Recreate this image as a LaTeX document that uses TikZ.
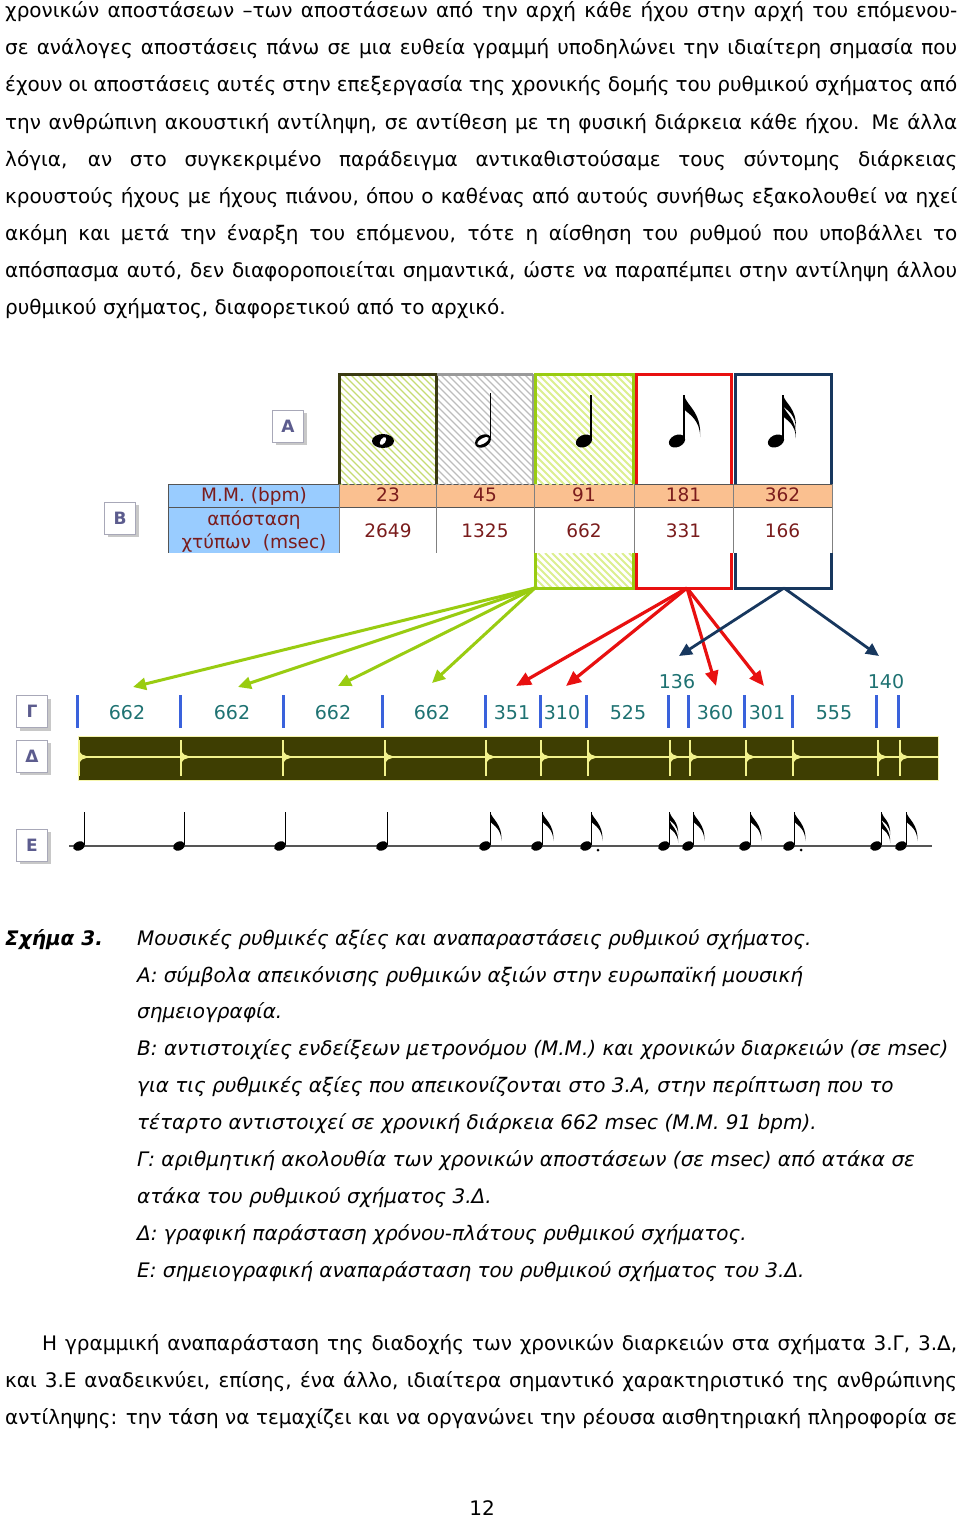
\documentclass[tikz,border=0pt]{standalone}
\usepackage{fontspec}
\setmainfont{DejaVu Sans}
\usetikzlibrary{arrows.meta}
\definecolor{olivedk}{HTML}{3A3A12}
\definecolor{hatchA}{HTML}{C6DC72}
\definecolor{grayfr}{HTML}{9A9A9A}
\definecolor{hatchB}{HTML}{BDBDBD}
\definecolor{greenfr}{HTML}{99CC11}
\definecolor{hatchC}{HTML}{DCEF90}
\definecolor{redfr}{HTML}{E81010}
\definecolor{navyfr}{HTML}{17375E}
\definecolor{hdrblue}{HTML}{99CCFF}
\definecolor{roworange}{HTML}{FAC090}
\definecolor{tabtext}{HTML}{7A1C1C}
\definecolor{gnumc}{HTML}{1E7272}
\definecolor{tickblue}{HTML}{3A62DC}
\definecolor{wavebg}{HTML}{3E3E02}
\definecolor{wavefg}{HTML}{F2F28C}
\definecolor{lbltext}{HTML}{5C5C8E}
\definecolor{lblborder}{HTML}{A8A8B8}
\definecolor{lblshadow}{HTML}{C8C8C8}
\definecolor{tabline}{HTML}{555555}
\newcommand{\bodyfont}{\fontsize{20}{24}\selectfont}
\newcommand{\jline}[4]{\node[txt] (#1) at (#2) {\makebox[#3][s]{#4}};}
\newcommand{\hatchrect}[6]{%
  \begin{scope}
    \clip (#1,#2) rectangle (#3,#4);
    \foreach \k in {-150,-143,...,110} \draw[#5, line width=#6] (#1+\k,#2) -- ++(150,150);
  \end{scope}}
\newcommand{\qhead}[4]{\fill[rotate around={25:(#1,#2)}] (#1,#2) ellipse [x radius=#3, y radius=#4];}
\newcommand{\flagat}[3]{\fill[shift={(#1,#2)}, scale=#3] (0,0) .. controls (1,7) and (12,11) .. (11,29) .. controls (11,17) and (3,13) .. (0,10) -- cycle;}
\newcommand{\Eq}[1]{\qhead{#1}{846}{6.2}{4.4}\draw[line width=1.2pt] (#1+5.4,845) -- (#1+5.4,812);}
\newcommand{\Ee}[1]{\Eq{#1}\flagat{#1+5.4}{812}{1}}
\newcommand{\Eed}[1]{\Ee{#1}\fill (#1+12,850) circle (1.5);}
\newcommand{\Es}[1]{\Eq{#1}\flagat{#1+5.4}{812}{0.8}\flagat{#1+5.4}{820}{0.8}}
\newcommand{\lblnode}[4]{%
  \fill[lblshadow] (#2-15.5+3,#3-16+3) rectangle (#2+15.5+3,#3+16+3);
  \node[lblbox] (#1) at (#2,#3) {#4};}
\begin{document}
\begin{tikzpicture}[x=1pt,y=-1pt,
  txt/.style={anchor=base west, inner sep=0pt, font=\bodyfont},
  itx/.style={anchor=base west, inner sep=0pt, font=\bodyfont\itshape},
  tab/.style={anchor=base, inner sep=0pt, text=tabtext, font=\fontsize{18.5}{23}\selectfont},
  gnum/.style={anchor=base, inner sep=0pt, text=gnumc, font=\fontsize{19}{23}\selectfont},
  lblbox/.style={draw=lblborder, fill=white, minimum width=31pt, minimum height=32pt, inner sep=0pt, text=lbltext, font=\bfseries\fontsize{17}{17}\selectfont},
  garr/.style={draw=greenfr, line width=3pt, -{Triangle[length=13pt,width=12pt]}},
  rarr/.style={draw=redfr, line width=3.2pt, -{Triangle[length=15pt,width=13pt]}},
  narr/.style={draw=navyfr, line width=2.8pt, -{Triangle[length=13pt,width=12pt]}},
  gtick/.style={draw=tickblue, line width=3pt},
  wspike/.style={draw=wavefg, line width=1.2pt}
]
\fill[white] (0,0) rectangle (960,1520);
\useasboundingbox (0,0) rectangle (960,1520);

% ---------- top paragraph ----------
\jline{t1}{5,18}{952pt}{χρονικών αποστάσεων –των αποστάσεων από την αρχή κάθε ήχου στην αρχή του επόμενου-}
\jline{t2}{5,55}{952pt}{σε ανάλογες αποστάσεις πάνω σε μια ευθεία γραμμή υποδηλώνει την ιδιαίτερη σημασία που}
\jline{t3}{5,92}{952pt}{έχουν οι αποστάσεις αυτές στην επεξεργασία της χρονικής δομής του ρυθμικού σχήματος από}
\jline{t4}{5,129}{952pt}{την ανθρώπινη ακουστική αντίληψη, σε αντίθεση με τη φυσική διάρκεια κάθε ήχου. Με άλλα}
\jline{t5}{5,166}{952pt}{λόγια, αν στο συγκεκριμένο παράδειγμα αντικαθιστούσαμε τους σύντομης διάρκειας}
\jline{t6}{5,203}{952pt}{κρουστούς ήχους με ήχους πιάνου, όπου ο καθένας από αυτούς συνήθως εξακολουθεί να ηχεί}
\jline{t7}{5,240}{952pt}{ακόμη και μετά την έναρξη του επόμενου, τότε η αίσθηση του ρυθμού που υποβάλλει το}
\jline{t8}{5,277}{952pt}{απόσπασμα αυτό, δεν διαφοροποιείται σημαντικά, ώστε να παραπέμπει στην αντίληψη άλλου}
\node[txt] (t9) at (5,314) {ρυθμικού σχήματος, διαφορετικού από το αρχικό.};

% ---------- label boxes ----------
\lblnode{la}{288}{426}{Α}
\lblnode{lb}{120}{518}{Β}
\lblnode{lg}{32}{711.5}{Γ}
\lblnode{ld}{32}{756}{Δ}
\lblnode{le}{32}{845}{Ε}

% ---------- table ----------
\fill[hdrblue] (168,484) rectangle (339,553);
\fill[roworange] (339,484) rectangle (832,507);
\draw[tabline, line width=0.8pt] (168,484) -- (832,484);
\draw[tabline, line width=0.8pt] (168,507) -- (832,507);
\draw[tabline, line width=0.8pt] (168,484) -- (168,553);
\foreach \c in {339,436,534,634,733,832} \draw[gray, line width=0.8pt] (\c,484) -- (\c,553);

% ---------- coloured columns ----------
\hatchrect{339}{374}{436}{484}{hatchA}{1.4pt}
\hatchrect{436}{374}{534}{484}{hatchB}{1.3pt}
\hatchrect{534}{374}{634}{484}{hatchC}{1.8pt}
\hatchrect{534}{553}{634}{588}{hatchC}{1.8pt}
\draw[olivedk, line width=3pt] (339,484) -- (339,374) -- (436,374) -- (436,484);
\draw[grayfr, line width=3pt] (437,374) -- (533,374);
\draw[grayfr, line width=3pt] (533,374) -- (533,484);
\draw[greenfr, line width=3pt] (535,484) -- (535,374) -- (633,374) -- (633,484);
\draw[greenfr, line width=3pt] (535,553) -- (535,588) -- (633,588) -- (633,553);
\draw[redfr, line width=3pt] (636,484) -- (636,374) -- (731,374) -- (731,484);
\draw[redfr, line width=3pt] (636,553) -- (636,588) -- (731,588) -- (731,553);
\draw[navyfr, line width=3pt] (735,484) -- (735,374) -- (831,374) -- (831,484);
\draw[navyfr, line width=3pt] (735,553) -- (735,588) -- (831,588) -- (831,553);

% ---------- notes in A ----------
\fill (383,441) ellipse [x radius=11, y radius=7];
\fill[white, rotate around={-35:(383,441)}] (383,441) ellipse [x radius=2.4, y radius=4.4];
\fill[rotate around={30:(483,441)}] (483,441) ellipse [x radius=8.5, y radius=6];
\fill[white, rotate around={30:(483,441)}] (483,441) ellipse [x radius=6.6, y radius=2.6];
\draw[line width=1.6pt] (490.5,438) -- (490.5,393);
\qhead{584}{441}{8.5}{6}
\draw[line width=1.6pt] (591.2,438) -- (591.2,395);
\qhead{677}{441}{8.5}{6}
\draw[line width=1.6pt] (684.2,438) -- (684.2,395);
\flagat{684.2}{395}{1.45}
\qhead{776}{441}{8.5}{6}
\draw[line width=1.6pt] (783.2,438) -- (783.2,395);
\flagat{783.2}{395}{1.15}
\flagat{783.2}{405}{1.15}

% ---------- table text ----------
\node[tab] (mmh) at (254,501) {Μ.Μ. (bpm)};
\node[tab] (dh1) at (254,525) {απόσταση};
\node[tab] (dh2) at (254,548) {χτύπων\ \ (msec)};
\node[tab] (m1) at (388,501.5) {23};
\node[tab] (m2) at (485,501.5) {45};
\node[tab] (m3) at (584,501.5) {91};
\node[tab] (m4) at (683.5,501.5) {181};
\node[tab] (m5) at (782.5,501.5) {362};
\node[tab] (d1) at (388,537.5) {2649};
\node[tab] (d2) at (485,537.5) {1325};
\node[tab] (d3) at (584,537.5) {662};
\node[tab] (d4) at (683.5,537.5) {331};
\node[tab] (d5) at (782.5,537.5) {166};

% ---------- arrows ----------
\coordinate (gsrc) at (535,588);
\coordinate (rsrc) at (687,588);
\coordinate (nsrc) at (784,588);
\coordinate (g1) at (133,687);
\coordinate (g2) at (238,687);
\coordinate (g3) at (338,686);
\coordinate (g4) at (432,683);
\coordinate (r1) at (516,686);
\coordinate (r2) at (566,686);
\coordinate (r3) at (716,686);
\coordinate (r4) at (764,686);
\coordinate (n1) at (679,656);
\coordinate (n2) at (879,656);
\foreach \t in {g1,g2,g3,g4} \draw[garr] (gsrc) -- (\t);
\foreach \t in {r1,r2,r3,r4} \draw[rarr] (rsrc) -- (\t);
\foreach \t in {n1,n2} \draw[narr] (nsrc) -- (\t);

% ---------- Gamma row ----------
\foreach \x in {77,180,283,382,485,540,586,668,688,744,792,876,898} \draw[gtick] (\x,695) -- (\x,728);
\node[gnum] (v1) at (127,719) {662};
\node[gnum] (v2) at (232,719) {662};
\node[gnum] (v3) at (333,719) {662};
\node[gnum] (v4) at (432,719) {662};
\node[gnum] (v5) at (512,719) {351};
\node[gnum] (v6) at (562,719) {310};
\node[gnum] (v7) at (628,719) {525};
\node[gnum] (v8) at (715,719) {360};
\node[gnum] (v9) at (767,719) {301};
\node[gnum] (v10) at (834,719) {555};
\node[gnum] (v11) at (677,688) {136};
\node[gnum] (v12) at (886,688) {140};

% ---------- Delta waveform ----------
\fill[wavebg] (78,736) rectangle (938,780);
\draw[wavefg!70!white, line width=0.8pt] (78,736) rectangle (938,780);
\draw[wavefg, line width=1.2pt] (78,757) -- (938,757);
\foreach \s in {79,181,283,385,486,541,588,670,690,746,793,878,900} {
  \draw[wspike] (\s,740) -- (\s,776);
  \fill[wavefg] (\s,751) -- (\s+3,754.5) -- (\s+10,757) -- (\s+3,759.5) -- (\s,763) -- cycle;
}

% ---------- E notation ----------
\draw[tabline, line width=1.2pt] (69,846) -- (932,846);
\Eq{79}\Eq{179}\Eq{280}\Eq{382}
\Ee{485}\Ee{537}\Eed{586}
\Es{664}\Ee{688}
\Ee{745}\Eed{789}
\Es{876}\Ee{901}

% ---------- caption ----------
\node[txt, font=\bodyfont\bfseries\itshape] (cap) at (5,945) {Σχήμα 3.};
\node[itx] (c1) at (137,945) {Μουσικές ρυθμικές αξίες και αναπαραστάσεις ρυθμικού σχήματος.};
\node[itx] (c2) at (137,982) {Α: σύμβολα απεικόνισης ρυθμικών αξιών στην ευρωπαϊκή μουσική};
\node[itx] (c3) at (137,1018) {σημειογραφία.};
\node[itx] (c4) at (137,1055) {Β: αντιστοιχίες ενδείξεων μετρονόμου (Μ.Μ.) και χρονικών διαρκειών (σε msec)};
\node[itx] (c5) at (137,1092) {για τις ρυθμικές αξίες που απεικονίζονται στο 3.Α, στην περίπτωση που το};
\node[itx] (c6) at (137,1129) {τέταρτο αντιστοιχεί σε χρονική διάρκεια 662 msec (Μ.Μ. 91 bpm).};
\node[itx] (c7) at (137,1166) {Γ: αριθμητική ακολουθία των χρονικών αποστάσεων (σε msec) από ατάκα σε};
\node[itx] (c8) at (137,1203) {ατάκα του ρυθμικού σχήματος 3.Δ.};
\node[itx] (c9) at (137,1240) {Δ: γραφική παράσταση χρόνου-πλάτους ρυθμικού σχήματος.};
\node[itx] (c10) at (137,1277) {Ε: σημειογραφική αναπαράσταση του ρυθμικού σχήματος του 3.Δ.};

% ---------- bottom paragraph ----------
\jline{b1}{42,1350}{915pt}{Η γραμμική αναπαράσταση της διαδοχής των χρονικών διαρκειών στα σχήματα 3.Γ, 3.Δ,}
\jline{b2}{5,1387}{952pt}{και 3.Ε αναδεικνύει, επίσης, ένα άλλο, ιδιαίτερα σημαντικό χαρακτηριστικό της ανθρώπινης}
\jline{b3}{5,1424}{952pt}{αντίληψης: την τάση να τεμαχίζει και να οργανώνει την ρέουσα αισθητηριακή πληροφορία σε}
\node[txt, anchor=base] (pg) at (482,1515) {12};
\end{tikzpicture}
\end{document}
